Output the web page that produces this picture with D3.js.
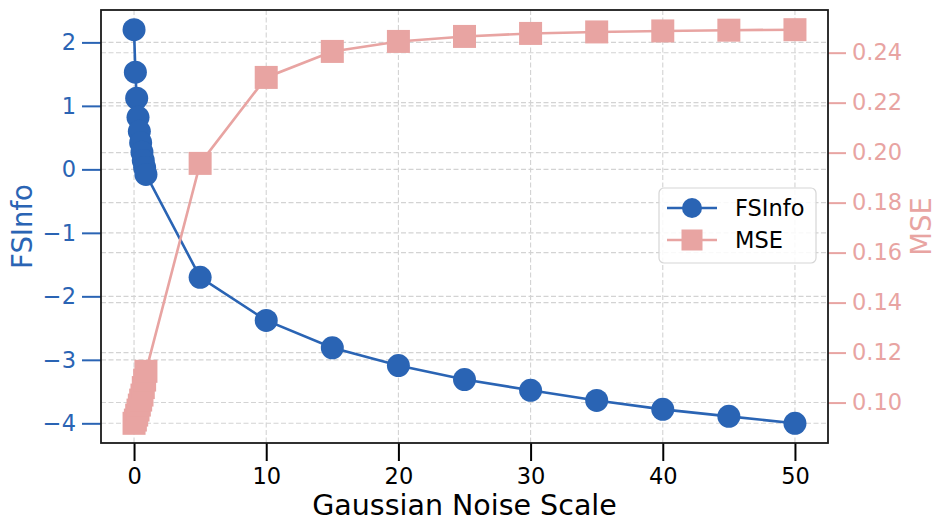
<!DOCTYPE html>
<html>
<head>
<meta charset="utf-8">
<script src="https://cdnjs.cloudflare.com/ajax/libs/d3/7.8.5/d3.min.js"></script>
<style>
  body { margin: 0; background: #fff; }
  svg text { font-family: "DejaVu Sans", sans-serif; }
</style>
</head>
<body>
<svg id="chart" width="946" height="532"></svg>
<script>
// data
var noiseScale = [0, 0.1, 0.2, 0.3, 0.4, 0.5, 0.6, 0.7, 0.8, 0.9,
                  5, 10, 15, 20, 25, 30, 35, 40, 45, 50];
var fsinfo = [2.2, 1.53, 1.12, 0.82, 0.6, 0.42, 0.27, 0.14, 0.03, -0.08,
              -1.70, -2.38, -2.81, -3.09, -3.31, -3.48, -3.64, -3.78, -3.89, -4.0];
var mse = [0.0917, 0.093, 0.095, 0.097, 0.099, 0.101, 0.103, 0.106, 0.109, 0.1125,
           0.1957, 0.2301, 0.2405, 0.2445, 0.2465, 0.2477, 0.2483, 0.2487, 0.2490, 0.2492];
var xTicks = [0, 10, 20, 30, 40, 50];
var leftTicks = [-4, -3, -2, -1, 0, 1, 2];
var rightTicks = [0.10, 0.12, 0.14, 0.16, 0.18, 0.20, 0.22, 0.24];

var BLUE = "#2a64b4", PINK = "#e8a4a2";

var margin = {left: 101, right: 118, top: 10, bottom: 89};
var W = 946, H = 532;
var svg = d3.select("#chart");
var g = svg.append("g").attr("transform", "translate(" + margin.left + "," + margin.top + ")");
var w = W - margin.left - margin.right, h = H - margin.top - margin.bottom;

// matplotlib style 5% padding on data limits
function padded(arr) {
  var e = d3.extent(arr), p = (e[1] - e[0]) * 0.05;
  return [e[0] - p, e[1] + p];
}

var x = d3.scaleLinear().domain(padded(noiseScale)).range([0, w]);
var yL = d3.scaleLinear().domain(padded(fsinfo)).range([h, 0]);
var yR = d3.scaleLinear().domain(padded(mse)).range([h, 0]);

// grids
var grid = g.append("g").attr("class", "grid")
  .attr("stroke", "#d3d3d3").attr("stroke-width", 1.1).attr("stroke-dasharray", "5,2.5");
grid.selectAll(".gx").data(xTicks).enter().append("line")
  .attr("x1", d => x(d)).attr("x2", d => x(d)).attr("y1", 0).attr("y2", h);
grid.selectAll(".gl").data(leftTicks).enter().append("line")
  .attr("x1", 0).attr("x2", w).attr("y1", d => yL(d)).attr("y2", d => yL(d));
grid.selectAll(".gr").data(rightTicks).enter().append("line")
  .attr("x1", 0).attr("x2", w).attr("y1", d => yR(d)).attr("y2", d => yR(d));

// FSInfo series
var lineL = d3.line().x((d, i) => x(noiseScale[i])).y(d => yL(d));
g.append("path").datum(fsinfo).attr("d", lineL)
  .attr("fill", "none").attr("stroke", BLUE).attr("stroke-width", 2.6);
g.selectAll(".dot").data(fsinfo).enter().append("circle")
  .attr("cx", (d, i) => x(noiseScale[i])).attr("cy", d => yL(d))
  .attr("r", 11.5).attr("fill", BLUE);

// MSE series
var lineR = d3.line().x((d, i) => x(noiseScale[i])).y(d => yR(d));
g.append("path").datum(mse).attr("d", lineR)
  .attr("fill", "none").attr("stroke", PINK).attr("stroke-width", 2.6);
var sq = 23;
g.selectAll(".sq").data(mse).enter().append("rect")
  .attr("x", (d, i) => x(noiseScale[i]) - sq / 2).attr("y", d => yR(d) - sq / 2)
  .attr("width", sq).attr("height", sq).attr("fill", PINK);

// axes
function styleAxis(sel, color) {
  sel.select(".domain").remove();
  sel.selectAll(".tick line").attr("stroke", color).attr("stroke-width", 2);
  sel.selectAll(".tick text").attr("fill", color).attr("font-size", "22.5px");
}
var fmtMinus = d => (d < 0 ? "\u2212" + Math.abs(d) : "" + d);

g.append("g").attr("transform", "translate(0," + h + ")")
  .call(d3.axisBottom(x).tickValues(xTicks).tickSize(18).tickPadding(7).tickFormat(d3.format("d")))
  .call(s => styleAxis(s, "#000"));

g.append("g")
  .call(d3.axisLeft(yL).tickValues(leftTicks).tickSize(19).tickPadding(6).tickFormat(fmtMinus))
  .call(s => styleAxis(s, BLUE));

g.append("g").attr("transform", "translate(" + w + ",0)")
  .call(d3.axisRight(yR).tickValues(rightTicks).tickSize(18).tickPadding(6).tickFormat(d3.format(".2f")))
  .call(s => styleAxis(s, PINK));

// frame
g.append("rect").attr("width", w).attr("height", h)
  .attr("fill", "none").attr("stroke", "#1a1a1a").attr("stroke-width", 1.8);

// axis labels
svg.append("text").attr("x", margin.left + w / 2).attr("y", 515)
  .attr("text-anchor", "middle").attr("font-size", "28.5px").attr("fill", "#000")
  .text("Gaussian Noise Scale");
svg.append("text").attr("transform", "translate(32," + (margin.top + h / 2) + ") rotate(-90)")
  .attr("text-anchor", "middle").attr("font-size", "27.5px").attr("fill", BLUE).text("FSInfo");
svg.append("text").attr("transform", "translate(931," + (margin.top + h / 2) + ") rotate(-90)")
  .attr("text-anchor", "middle").attr("font-size", "27.5px").attr("fill", PINK).text("MSE");

// legend
var leg = svg.append("g").attr("transform", "translate(659,188)");
leg.append("rect").attr("width", 157).attr("height", 75).attr("rx", 5)
  .attr("fill", "rgba(255,255,255,0.85)").attr("stroke", "#d6d6d6").attr("stroke-width", 1.2);
var legItems = [
  {name: "FSInfo", color: BLUE, shape: "circle"},
  {name: "MSE", color: PINK, shape: "square"}
];
legItems.forEach(function(it, i) {
  var yy = 20 + i * 32;
  leg.append("line").attr("x1", 8).attr("x2", 58).attr("y1", yy).attr("y2", yy)
    .attr("stroke", it.color).attr("stroke-width", 2.6);
  if (it.shape === "circle") {
    leg.append("circle").attr("cx", 33).attr("cy", yy).attr("r", 10).attr("fill", it.color);
  } else {
    leg.append("rect").attr("x", 22.5).attr("y", yy - 10.5).attr("width", 21).attr("height", 21).attr("fill", it.color);
  }
  leg.append("text").attr("x", 76).attr("y", yy + 8).attr("font-size", "22.5px").attr("fill", "#000").text(it.name);
});
</script>
</body>
</html>
